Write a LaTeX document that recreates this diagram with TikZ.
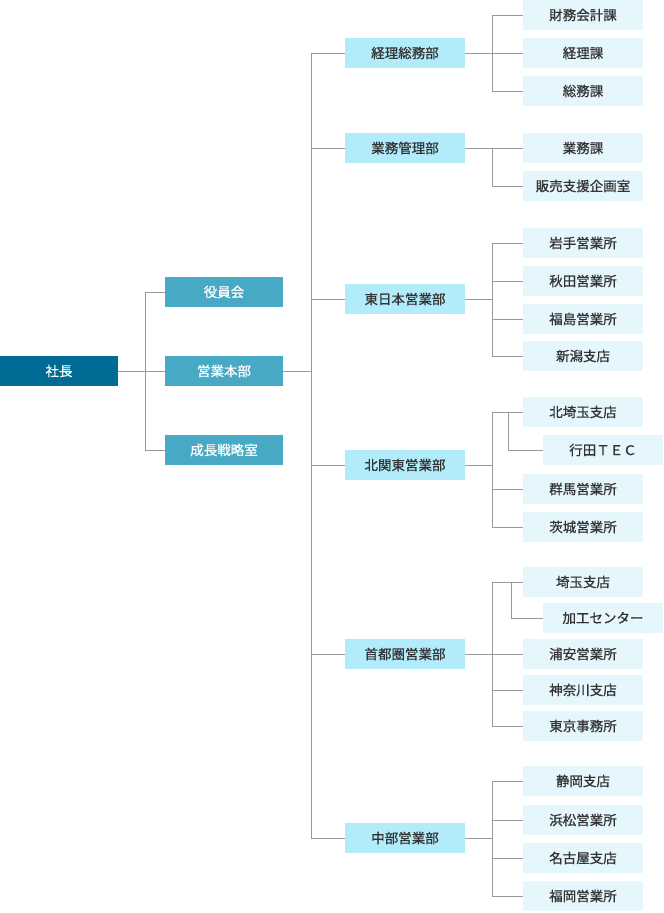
\documentclass[tikz,border=0pt]{standalone}
\usepackage{fontspec}
\usepackage{tikz}
\newfontfamily\jp[FakeBold=0.8]{Noto Sans CJK JP}
\definecolor{bossblue}{HTML}{006B94}
\definecolor{headblue}{HTML}{48A9C5}
\definecolor{deptblue}{HTML}{B2EBFA}
\definecolor{sectblue}{HTML}{E5F6FD}
\definecolor{linegray}{HTML}{999999}
\definecolor{textgray}{HTML}{333333}

\begin{document}
\begin{tikzpicture}[x=1pt,y=-1pt,
	box/.style={inner sep=0pt,minimum height=30pt,font=\jp\fontsize{13.5}{15}\selectfont},
	boss/.style={box,fill=bossblue,text=white,minimum width=118pt},
	head/.style={box,fill=headblue,text=white,minimum width=118pt},
	dept/.style={box,fill=deptblue,text=textgray,minimum width=120pt},
	sect/.style={box,fill=sectblue,text=textgray,minimum width=120pt},
	tree/.style={draw=linegray,line width=1pt}]
	\useasboundingbox (0,0) rectangle (664,913);

	% top level
	\node[boss] (pres) at (59,371) {社長};
	\node[head] (board) at (224,292) {役員会};
	\node[head] (sales) at (224,371) {営業本部};
	\node[head] (growth) at (224,450) {成長戦略室};
	\draw[tree] (pres) -- (sales);
	\draw[tree] (board.west) -- ++(-19,0) |- (growth.west);

	% departments
	\foreach \t/\y/\n in {経理総務部/53/acct,業務管理部/148/ops,東日本営業部/299/east,北関東営業部/465/nkanto,首都圏営業部/654/metro,中部営業部/838/chubu}
	{
		\node[dept] (\n) at (405,\y) {\t};
	}
	\draw[tree] (sales.east) -- ++(29,0);
	\draw[tree] (acct.west) -- ++(-33,0) |- (chubu.west);
	\foreach \n in {ops,east,nkanto,metro}
		\draw[tree] (\n.west) -- ++(-33,0);

	% sections
	\foreach \t/\y[count=\i] in {財務会計課/15,経理課/53,総務課/91}
		\node[sect] (acct\i) at (583,\y) {\t};
	\foreach \t/\y[count=\i] in {業務課/148,販売支援企画室/186}
		\node[sect] (ops\i) at (583,\y) {\t};
	\foreach \t/\y[count=\i] in {岩手営業所/243,秋田営業所/281,福島営業所/319,新潟支店/356}
		\node[sect] (east\i) at (583,\y) {\t};
	\foreach \t/\x/\y[count=\i] in {北埼玉支店/583/412,行田ＴＥＣ/603/450,群馬営業所/583/489,茨城営業所/583/527}
		\node[sect] (nkanto\i) at (\x,\y) {\t};
	\foreach \t/\x/\y[count=\i] in {埼玉支店/583/582,加工センター/603/618,浦安営業所/583/654,神奈川支店/583/690,東京事務所/583/726}
		\node[sect] (metro\i) at (\x,\y) {\t};
	\foreach \t/\y[count=\i] in {静岡支店/781,浜松営業所/820,名古屋支店/858,福岡営業所/896}
		\node[sect] (chubu\i) at (583,\y) {\t};

	% branches
	\draw[tree] (acct.east) -- (acct2.west);
	\draw[tree] (acct1.west) -- ++(-30,0) |- (acct3.west);
	\draw[tree] (ops.east) -- (ops1.west);
	\draw[tree] (ops1.west) -- ++(-30,0) |- (ops2.west);
	\draw[tree] (east.east) -- ++(28,0);
	\draw[tree] (east1.west) -- ++(-30,0) |- (east4.west);
	\foreach \i in {2,3}
		\draw[tree] (east\i.west) -- ++(-30,0);
	\draw[tree] (nkanto.east) -- ++(28,0);
	\draw[tree] (nkanto1.west) -- ++(-30,0) |- (nkanto4.west);
	\draw[tree] (nkanto3.west) -- ++(-30,0);
	\draw[tree] (nkanto1.west) ++(-14,0) |- (nkanto2.west);
	\draw[tree] (metro.east) -- (metro3.west);
	\draw[tree] (metro1.west) -- ++(-30,0) |- (metro5.west);
	\draw[tree] (metro4.west) -- ++(-30,0);
	\draw[tree] (metro1.west) ++(-11,0) |- (metro2.west);
	\draw[tree] (chubu.east) -- ++(28,0);
	\draw[tree] (chubu1.west) -- ++(-30,0) |- (chubu4.west);
	\foreach \i in {2,3}
		\draw[tree] (chubu\i.west) -- ++(-30,0);
\end{tikzpicture}
\end{document}
